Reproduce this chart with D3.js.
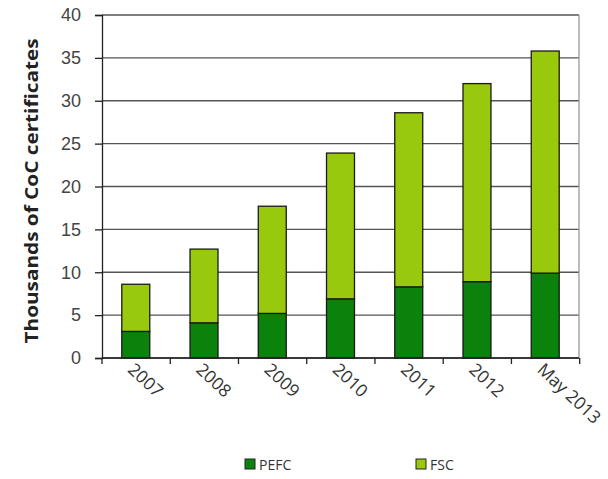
<!DOCTYPE html>
<html>
<head>
<meta charset="utf-8">
<script src="https://cdn.jsdelivr.net/npm/d3@7"></script>
<style>
  body { margin: 0; background: #fff; }
  svg { font-family: "Open Sans", "Liberation Sans", sans-serif; }
</style>
</head>
<body>
<svg id="chart" width="608" height="479"></svg>
<script>
// ── Data (thousands of CoC certificates) ──
const categories = ["2007", "2008", "2009", "2010", "2011", "2012", "May 2013"];
const pefc = [3.1, 4.1, 5.2, 6.9, 8.3, 8.9, 9.9];
const totals = [8.6, 12.7, 17.7, 23.9, 28.6, 32.0, 35.8];
const fsc = totals.map((t, i) => +(t - pefc[i]).toFixed(1));
const yTicks = [0, 5, 10, 15, 20, 25, 30, 35, 40];

const colors = { PEFC: "#0b820b", FSC: "#99c90c" };

const svg = d3.select("#chart");
const m = { left: 102, top: 15, right: 29, bottom: 121 };
const W = 608 - m.left - m.right, H = 479 - m.top - m.bottom;
const g = svg.append("g").attr("transform", `translate(${m.left},${m.top})`);

const x = d3.scaleBand().domain(categories).range([0, W]).paddingInner(0.59).paddingOuter(0.29);
const y = d3.scaleLinear().domain([0, 40]).range([H, 0]);

// gridlines
g.selectAll(".grid").data(yTicks).enter().append("line")
  .attr("x1", 0).attr("x2", W)
  .attr("y1", d => y(d)).attr("y2", d => y(d))
  .attr("stroke", "#555").attr("stroke-width", 1.3);

// right border
g.append("line").attr("x1", W).attr("x2", W).attr("y1", 0).attr("y2", H)
  .attr("stroke", "#999").attr("stroke-width", 1.3);

// stacked bars
const stackData = categories.map((c, i) => ({ cat: c, PEFC: pefc[i], FSC: fsc[i] }));
const series = d3.stack().keys(["PEFC", "FSC"])(stackData);
g.selectAll(".layer").data(series).enter().append("g")
  .attr("fill", d => colors[d.key])
  .selectAll("rect").data(d => d).enter().append("rect")
  .attr("x", d => x(d.data.cat))
  .attr("width", x.bandwidth())
  .attr("y", d => y(d[1]))
  .attr("height", d => y(d[0]) - y(d[1]))
  .attr("stroke", "#1a1a1a").attr("stroke-width", 1.3);

// y axis
const yAxis = g.append("g").call(d3.axisLeft(y).tickValues(yTicks).tickSize(7).tickPadding(14));
yAxis.select(".domain").attr("stroke", "#222").attr("stroke-width", 1.3);
yAxis.selectAll(".tick line").attr("stroke", "#222").attr("stroke-width", 1.3);
yAxis.selectAll("text").attr("font-size", 18).attr("fill", "#444");

// x axis: baseline with tick marks between categories
const step = x.step();
const xg = g.append("g").attr("transform", `translate(0,${H})`);
xg.append("line").attr("x1", 0).attr("x2", W).attr("stroke", "#222").attr("stroke-width", 1.3);
xg.selectAll(".xt").data(d3.range(categories.length + 1)).enter().append("line")
  .attr("x1", i => i * step).attr("x2", i => i * step)
  .attr("y1", 0).attr("y2", 6)
  .attr("stroke", "#222").attr("stroke-width", 1.3);
xg.selectAll(".xl").data(categories).enter().append("text")
  .attr("transform", d => `translate(${x(d) + x.bandwidth() / 2 - 9},${13}) rotate(43)`)
  .attr("font-size", 17.5).attr("fill", "#333")
  .text(d => d);

// y axis title
svg.append("text")
  .attr("transform", `translate(38,${191}) rotate(-90)`)
  .attr("text-anchor", "middle")
  .attr("font-size", 17).attr("font-weight", "bold").attr("fill", "#222")
  .attr("textLength", 305).attr("lengthAdjust", "spacingAndGlyphs")
  .text("Thousands of  CoC certificates");

// legend
const legend = [{ key: "PEFC", x: 245 }, { key: "FSC", x: 416 }];
const lg = svg.selectAll(".lg").data(legend).enter().append("g")
  .attr("transform", d => `translate(${d.x},459)`);
lg.append("rect").attr("width", 10).attr("height", 10)
  .attr("fill", d => colors[d.key]).attr("stroke", "#222").attr("stroke-width", 1);
lg.append("text").attr("x", 14).attr("y", 10.5)
  .attr("font-size", 14).attr("fill", "#333").text(d => d.key);
</script>
</body>
</html>
